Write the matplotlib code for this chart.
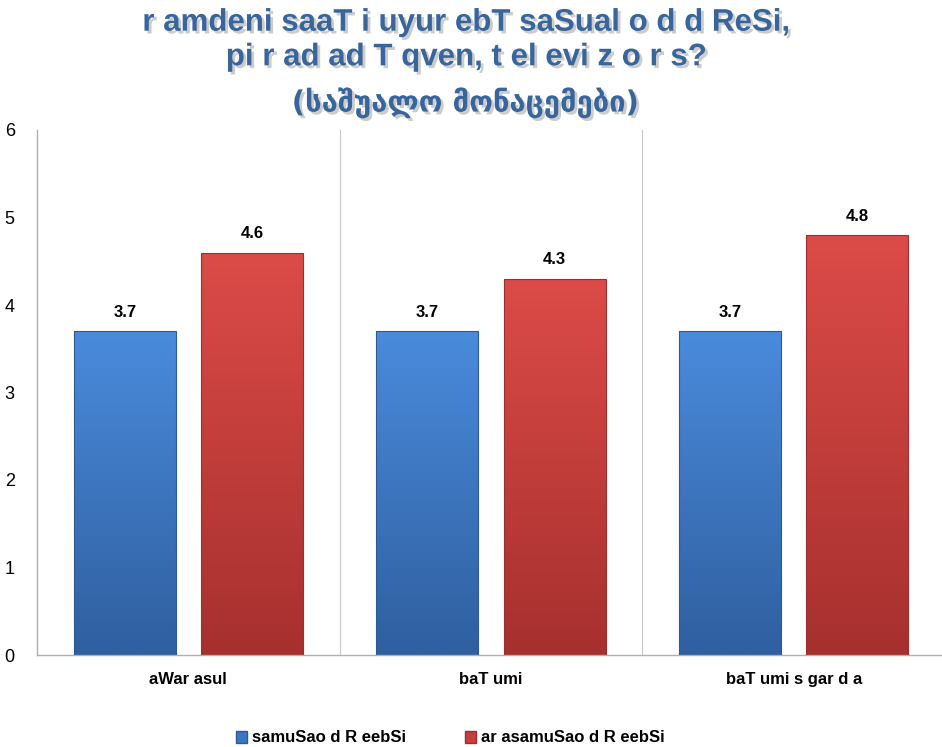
import numpy as np
import matplotlib.pyplot as plt
import matplotlib.patheffects as pe
from matplotlib.colors import LinearSegmentedColormap
from matplotlib.patches import Patch

# data
categories = ['aWar asul', 'baT umi', 'baT umi s gar d a']
series_names = ['samuSao d R eebSi', 'ar asamuSao d R eebSi']
workdays = [3.7, 3.7, 3.7]
weekends = [4.6, 4.3, 4.8]
yticks = [0, 1, 2, 3, 4, 5, 6]

title_main = 'r amdeni saaT i uyur ebT saSual o d d ReSi,\npi r ad ad T qven, t el evi z o r s?'
title_sub = '(საშუალო მონაცემები)'

plt.rcParams['font.family'] = ['Liberation Sans', 'DejaVu Sans']

fig = plt.figure(figsize=(9.42, 7.47), dpi=100)
ax = fig.add_axes([37 / 942, 92 / 747, 908 / 942, 525 / 747])

x = np.arange(len(categories))
w = 0.337
off = 0.21

blue_cm = LinearSegmentedColormap.from_list('b', ['#4a8bdc', '#2f5f9f'])
red_cm = LinearSegmentedColormap.from_list('r', ['#dc4b48', '#a6302e'])

def gradient_bars(xs, vals, cmap, edge):
    bars = ax.bar(xs, vals, width=w, color='none', edgecolor=edge, linewidth=0.8, zorder=3)
    grad = np.linspace(0, 1, 256).reshape(-1, 1)
    for b in bars:
        x0, y0 = b.get_x(), b.get_y()
        im = ax.imshow(grad, cmap=cmap, aspect='auto', zorder=2,
                       extent=[x0, x0 + b.get_width(), y0, y0 + b.get_height()],
                       origin='upper')
        im.set_clip_path(b)
    for xi, v in zip(xs, vals):
        ax.text(xi, v + 0.13, f'{v:.1f}', ha='center', va='bottom',
                fontsize=12, fontweight='bold', color='black')
    return bars

gradient_bars(x - off, workdays, blue_cm, '#2d5a94')
gradient_bars(x + off, weekends, red_cm, '#9e2e2c')

ax.set_xlim(-0.5, 2.5)
ax.set_ylim(0, 6)
ax.set_yticks(yticks)
ax.set_yticklabels([str(t) for t in yticks], fontsize=13)
ax.tick_params(axis='y', length=0, pad=16)
ax.set_xticks(x)
ax.set_xticklabels(categories, fontsize=12, fontweight='bold')
ax.tick_params(axis='x', length=0, pad=12)

for s in ['top', 'right']:
    ax.spines[s].set_visible(False)
for s in ['left', 'bottom']:
    ax.spines[s].set_color('#b0b0b0')
    ax.spines[s].set_linewidth(1)

# vertical separators between categories
for b in [0.5, 1.5]:
    ax.axvline(b, color='#c8c8c8', lw=0.8, zorder=1)

# title with a soft drop shadow
shadow = [pe.SimplePatchShadow(offset=(2, -2), shadow_rgbFace='#9a9a9a', alpha=0.5), pe.Normal()]
t1 = fig.text(466 / 942, 1 - 40 / 747, title_main, ha='center', va='center',
              fontsize=22.5, fontweight='bold', color='#37659c', linespacing=1.2)
t1.set_path_effects(shadow)
t2 = fig.text(465 / 942, 1 - 103 / 747, title_sub, ha='center', va='center',
              fontsize=21, fontweight='bold', color='#37659c', family=['DejaVu Sans'])
t2.set_path_effects(shadow)

handles = [Patch(facecolor='#3d76c0', edgecolor='#2d5a94'),
           Patch(facecolor='#c43f3d', edgecolor='#9e2e2c')]
fig.legend(handles, series_names, loc='center', bbox_to_anchor=(0.478, 1 - 738 / 747),
           ncol=2, frameon=False, handlelength=0.7, handleheight=0.7,
           handletextpad=0.3, columnspacing=3.5,
           prop={'weight': 'bold', 'size': 12})

fig.savefig('out.png', dpi=100)
